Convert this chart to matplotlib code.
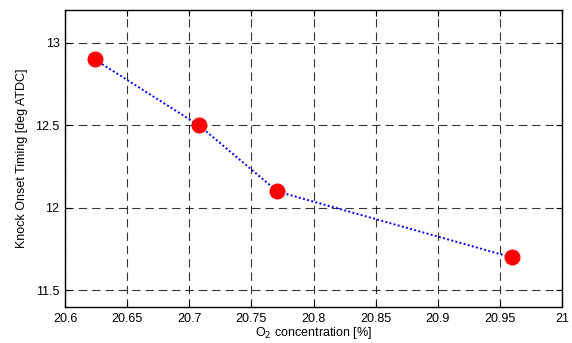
import matplotlib
matplotlib.use('Agg')
import matplotlib.pyplot as plt
import numpy as np

# datos
o2 = [20.624, 20.708, 20.771, 20.960]
knock = [12.9, 12.5, 12.1, 11.7]

xticks = [20.6, 20.65, 20.7, 20.75, 20.8, 20.85, 20.9, 20.95, 21]
xticklabels = ['20.6', '20.65', '20.7', '20.75', '20.8', '20.85', '20.9', '20.95', '21']
yticks = [11.5, 12, 12.5, 13]
yticklabels = ['11.5', '12', '12.5', '13']

plt.rcParams['font.family'] = ['Liberation Sans', 'DejaVu Sans']
plt.rcParams['font.size'] = 9

fig = plt.figure(figsize=(5.72, 3.43), dpi=100)
ax = fig.add_axes([65 / 572, 1 - 307 / 343, 497 / 572, 297 / 343])

ax.plot(o2, knock, linestyle=(0, (1, 1.2)), color='blue', linewidth=1.4, zorder=2)
ax.plot(o2, knock, 'o', color='red', markersize=10.5, zorder=3)

ax.set_xlim(20.6, 21)
ax.set_ylim(11.4, 13.2)
ax.set_xticks(xticks)
ax.set_xticklabels(xticklabels)
ax.set_yticks(yticks)
ax.set_yticklabels(yticklabels)

ax.grid(True, color='black', linestyle=(0, (7.5, 4.5)), linewidth=0.8, alpha=0.8)
ax.tick_params(direction='in', top=True, right=True, length=4, width=0.8, pad=4)
for s in ax.spines.values():
    s.set_linewidth(1.0)

ax.set_xlabel('O$_2$ concentration [%]', labelpad=0)
ax.set_ylabel('Knock Onset Timing [deg ATDC]', labelpad=5)

fig.savefig('out.png', dpi=100)
